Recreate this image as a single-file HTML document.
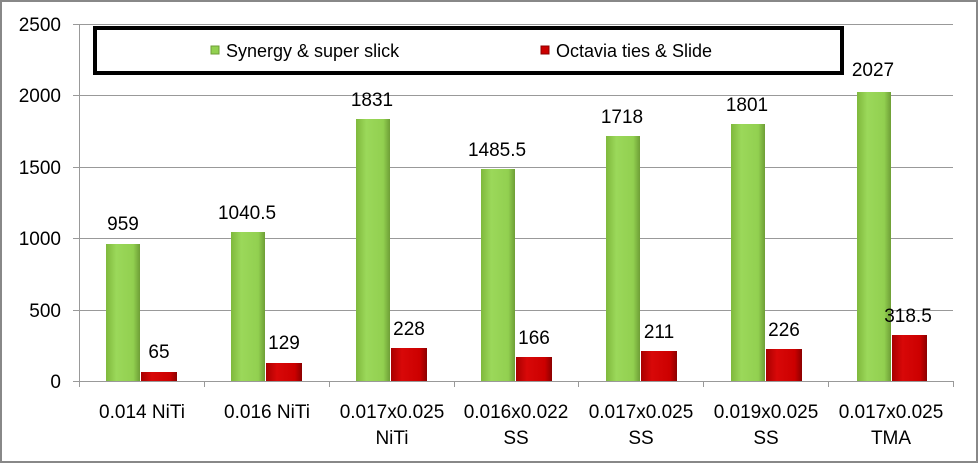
<!DOCTYPE html><html><head><style>body{margin:0;background:#fff}</style></head><body>
<svg width="978" height="463" xmlns="http://www.w3.org/2000/svg" font-family="Liberation Sans, sans-serif">
<defs>
<linearGradient id="g" x1="0" x2="1"><stop offset="0" stop-color="#7fb83c"/><stop offset="0.3" stop-color="#9bd85a"/><stop offset="0.8" stop-color="#92d050"/><stop offset="1" stop-color="#6e9e36"/></linearGradient>
<linearGradient id="r" x1="0" x2="1"><stop offset="0" stop-color="#a80000"/><stop offset="0.3" stop-color="#d80808"/><stop offset="0.8" stop-color="#cc0000"/><stop offset="1" stop-color="#8c0000"/></linearGradient>
</defs>
<rect x="1" y="1" width="976" height="461" fill="#fff" stroke="#888" stroke-width="2"/>
<g stroke="#999" stroke-width="1">
<line x1="73" y1="24.5" x2="953" y2="24.5"/><line x1="73" y1="95.5" x2="953" y2="95.5"/><line x1="73" y1="167.5" x2="953" y2="167.5"/><line x1="73" y1="238.5" x2="953" y2="238.5"/><line x1="73" y1="310.5" x2="953" y2="310.5"/><line x1="73" y1="381.5" x2="953" y2="381.5"/>
<line x1="79.5" y1="24" x2="79.5" y2="387"/>
<line x1="204.5" y1="381" x2="204.5" y2="387"/><line x1="329.5" y1="381" x2="329.5" y2="387"/><line x1="454.5" y1="381" x2="454.5" y2="387"/><line x1="578.5" y1="381" x2="578.5" y2="387"/><line x1="703.5" y1="381" x2="703.5" y2="387"/><line x1="828.5" y1="381" x2="828.5" y2="387"/><line x1="953.5" y1="381" x2="953.5" y2="387"/>
</g>
<g font-size="19" text-anchor="end" fill="#000">
<text x="61" y="31">2500</text><text x="61" y="102">2000</text><text x="61" y="174">1500</text><text x="61" y="245">1000</text><text x="61" y="317">500</text><text x="61" y="388">0</text>
</g>
<g font-size="19" text-anchor="middle" fill="#000">
<rect x="106" y="244" width="34" height="137" fill="url(#g)"/><rect x="141" y="372" width="36" height="9" fill="url(#r)"/>
<text x="123" y="230">959</text><text x="159" y="358">65</text>
<rect x="231" y="232" width="34" height="149" fill="url(#g)"/><rect x="266" y="363" width="36" height="18" fill="url(#r)"/>
<text x="247" y="219">1040.5</text><text x="284" y="349">129</text>
<rect x="356" y="119" width="34" height="262" fill="url(#g)"/><rect x="391" y="348" width="36" height="33" fill="url(#r)"/>
<text x="372" y="106">1831</text><text x="409" y="335">228</text>
<rect x="481" y="169" width="34" height="212" fill="url(#g)"/><rect x="516" y="357" width="36" height="24" fill="url(#r)"/>
<text x="497" y="156">1485.5</text><text x="534" y="344">166</text>
<rect x="606" y="136" width="34" height="245" fill="url(#g)"/><rect x="641" y="351" width="36" height="30" fill="url(#r)"/>
<text x="622" y="123">1718</text><text x="659" y="338">211</text>
<rect x="731" y="124" width="34" height="257" fill="url(#g)"/><rect x="766" y="349" width="36" height="32" fill="url(#r)"/>
<text x="747" y="111">1801</text><text x="784" y="336">226</text>
<rect x="857" y="92" width="34" height="289" fill="url(#g)"/><rect x="892" y="335" width="35" height="46" fill="url(#r)"/>
<text x="873" y="76">2027</text><text x="908" y="322">318.5</text>
</g>
<g font-size="19" text-anchor="middle" fill="#000">
<text x="142" y="418">0.014 NiTi</text><text x="267" y="418">0.016 NiTi</text>
<text x="392" y="418">0.017x0.025</text><text x="392" y="444">NiTi</text>
<text x="516" y="418">0.016x0.022</text><text x="516" y="444">SS</text>
<text x="641" y="418">0.017x0.025</text><text x="641" y="444">SS</text>
<text x="766" y="418">0.019x0.025</text><text x="766" y="444">SS</text>
<text x="891" y="418">0.017x0.025</text><text x="891" y="444">TMA</text>
</g>
<rect x="95" y="28" width="747" height="45" fill="#fff" stroke="#000" stroke-width="4"/>
<rect x="211" y="46" width="8" height="8" fill="#92d050" stroke="#6e9e36"/>
<text x="226" y="57" font-size="18">Synergy &amp; super slick</text>
<rect x="541" y="46" width="8" height="8" fill="#cc0000" stroke="#8c0000"/>
<text x="556" y="57" font-size="18">Octavia ties &amp; Slide</text>
</svg>
</body></html>
